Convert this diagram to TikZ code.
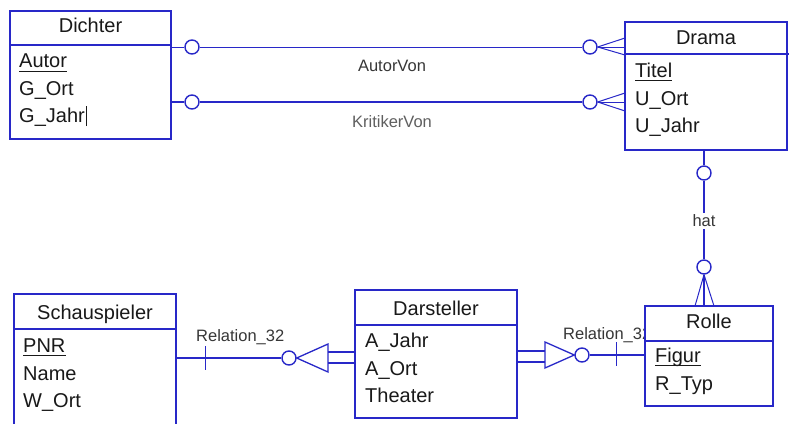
\documentclass[tikz,border=0pt]{standalone}
\usepackage{fontspec}
\setmainfont{Liberation Sans}
\definecolor{erblue}{RGB}{40,40,200}
\definecolor{txt}{RGB}{25,25,25}
\definecolor{lblc}{RGB}{55,55,55}
\begin{document}
\begin{tikzpicture}[x=1pt,y=-1pt,
 ent/.style={draw=erblue,line width=1.4pt,fill=white,anchor=north west,inner sep=0pt,outer sep=0pt},
 sep/.style={draw=erblue,line width=1.4pt},
 ttl/.style={font=\fontsize{20}{24}\selectfont,text=txt,anchor=base,inner sep=0pt},
 att/.style={font=\fontsize{20}{24}\selectfont,text=txt,anchor=base west,inner sep=0pt},
 keyline/.style={draw=txt,line width=0.9pt},
 lbl/.style={font=\fontsize{16.5}{20}\selectfont,text=lblc,inner sep=2pt},
 thinc/.style={draw=erblue,line width=1pt},
 thickc/.style={draw=erblue,line width=1.8pt},
 ring/.style={circle,draw=erblue,line width=1.4pt,fill=white,minimum size=14pt,inner sep=0pt},
]
\clip (0,0) rectangle (795,423);
\fill[white] (0,0) rectangle (795,423);

% label partly hidden behind Rolle
\node[lbl,anchor=west,inner sep=0pt] (rel3) at (563,335) {Relation\_32};

% ---------- Dichter
\node[ent,minimum width=161pt,minimum height=128pt] (dichter) at (10,11) {};
\draw[sep] (10,45) -- (171,45);
\node[ttl] (dichterT) at (90.5,32) {Dichter};
\node[att] (autor) at (19,67) {Autor};
\draw[keyline] ([yshift=-4pt]autor.base west) -- ([yshift=-4pt]autor.base east);
\node[att] (gort) at (19,95) {G\_Ort};
\node[att] (gjahr) at (19,122) {G\_Jahr};
\draw[txt,line width=0.8pt] ([xshift=1.5pt,yshift=-4pt]gjahr.base east) -- ([xshift=1.5pt,yshift=16pt]gjahr.base east);

% ---------- Drama
\node[ent,minimum width=162pt,minimum height=128pt] (drama) at (625,22) {};
\draw[sep] (625,54) -- (789,54);
\node[ttl] (dramaT) at (706,44) {Drama};
\node[att] (titel) at (635,77) {Titel};
\draw[keyline] ([yshift=-3pt]titel.base west) -- ([yshift=-3pt]titel.base east);
\node[att] (uort) at (635,105) {U\_Ort};
\node[att] (ujahr) at (635,132) {U\_Jahr};

% ---------- Rolle
\node[ent,minimum width=128pt,minimum height=100pt] (rolle) at (645,306) {};
\draw[sep] (645,341) -- (773,341);
\node[ttl] (rolleT) at (709,328) {Rolle};
\node[att] (figur) at (655,362) {Figur};
\draw[keyline] ([yshift=-3pt]figur.base west) -- ([yshift=-3pt]figur.base east);
\node[att] (rtyp) at (655,390) {R\_Typ};

% ---------- Schauspieler
\node[ent,minimum width=162pt,minimum height=150pt] (schau) at (14,294) {};
\draw[sep] (14,329) -- (176,329);
\node[ttl] (schauT) at (95,319) {Schauspieler};
\node[att] (pnr) at (23,352) {PNR};
\draw[keyline] ([yshift=-3pt]pnr.base west) -- ([yshift=-3pt]pnr.base east);
\node[att] (name) at (23,380) {Name};
\node[att] (wort) at (23,407) {W\_Ort};

% ---------- Darsteller
\node[ent,minimum width=162pt,minimum height=128pt] (darst) at (355,290) {};
\draw[sep] (355,325) -- (517,325);
\node[ttl] (darstT) at (436,315) {Darsteller};
\node[att] (ajahr) at (365,347) {A\_Jahr};
\node[att] (aort) at (365,375) {A\_Ort};
\node[att] (theater) at (365,402) {Theater};

% ---------- AutorVon
\node[ring] (c1) at (192,47) {};
\node[ring] (c2) at (590,47) {};
\draw[thinc] (dichter.east |- c1) -- (c1) -- (c2);
\draw[thinc] (c2.east) -- (drama.west |- 0,38);
\draw[thinc] (c2.east) -- (drama.west |- c2);
\draw[thinc] (c2.east) -- (drama.west |- 0,55);
\node[lbl] (autorvon) at (392,66) {AutorVon};

% ---------- KritikerVon
\node[ring] (c3) at (192,102) {};
\node[ring] (c4) at (590,102) {};
\draw[thickc] (dichter.east |- c3) -- (c3) -- (c4);
\draw[thinc] (c4.east) -- (drama.west |- 0,93);
\draw[thinc] (c4.east) -- (drama.west |- c4);
\draw[thinc] (c4.east) -- (drama.west |- 0,111);
\node[lbl,text=lblc!80] (kritikervon) at (392,122) {KritikerVon};

% ---------- hat
\node[ring] (c5) at (704,173) {};
\node[ring] (c6) at (704,267) {};
\node[lbl] (hat) at (704,221) {hat};
\draw[thickc] (c5 |- drama.south) -- (c5);
\draw[thickc] (c5) -- (hat) -- (c6);
\draw[thinc] (c6.south) -- (695,306);
\draw[thickc] (c6.south) -- (c6 |- rolle.north);
\draw[thinc] (c6.south) -- (714,306);

% ---------- Relation_32 (Schauspieler - Darsteller)
\node[ring] (c7) at (289,358) {};
\draw[thickc] (schau.east |- c7) -- (c7.west);
\draw[thinc] (205,346) -- (205,370);
\draw[thinc,line width=1.3pt] (c7.east) -- (328,344) -- (328,372) -- cycle;
\draw[thickc,line width=1.5pt] (328,352) -- (darst.west |- 0,352);
\draw[thickc,line width=1.5pt] (328,363) -- (darst.west |- 0,363);
\node[lbl,anchor=west,inner sep=0pt] (rel32) at (196,337) {Relation\_32};

% ---------- Relation_32 (Darsteller - Rolle)
\node[ring] (c8) at (582,355) {};
\draw[thickc,line width=1.5pt] (darst.east |- 0,351) -- (545,351);
\draw[thickc,line width=1.5pt] (darst.east |- 0,362) -- (545,362);
\draw[thinc,line width=1.3pt] (c8.west) -- (545,342) -- (545,368) -- cycle;
\draw[thickc] (c8.east) -- (rolle.west |- c8);
\draw[thinc] (616,342) -- (616,366);
\end{tikzpicture}
\end{document}
